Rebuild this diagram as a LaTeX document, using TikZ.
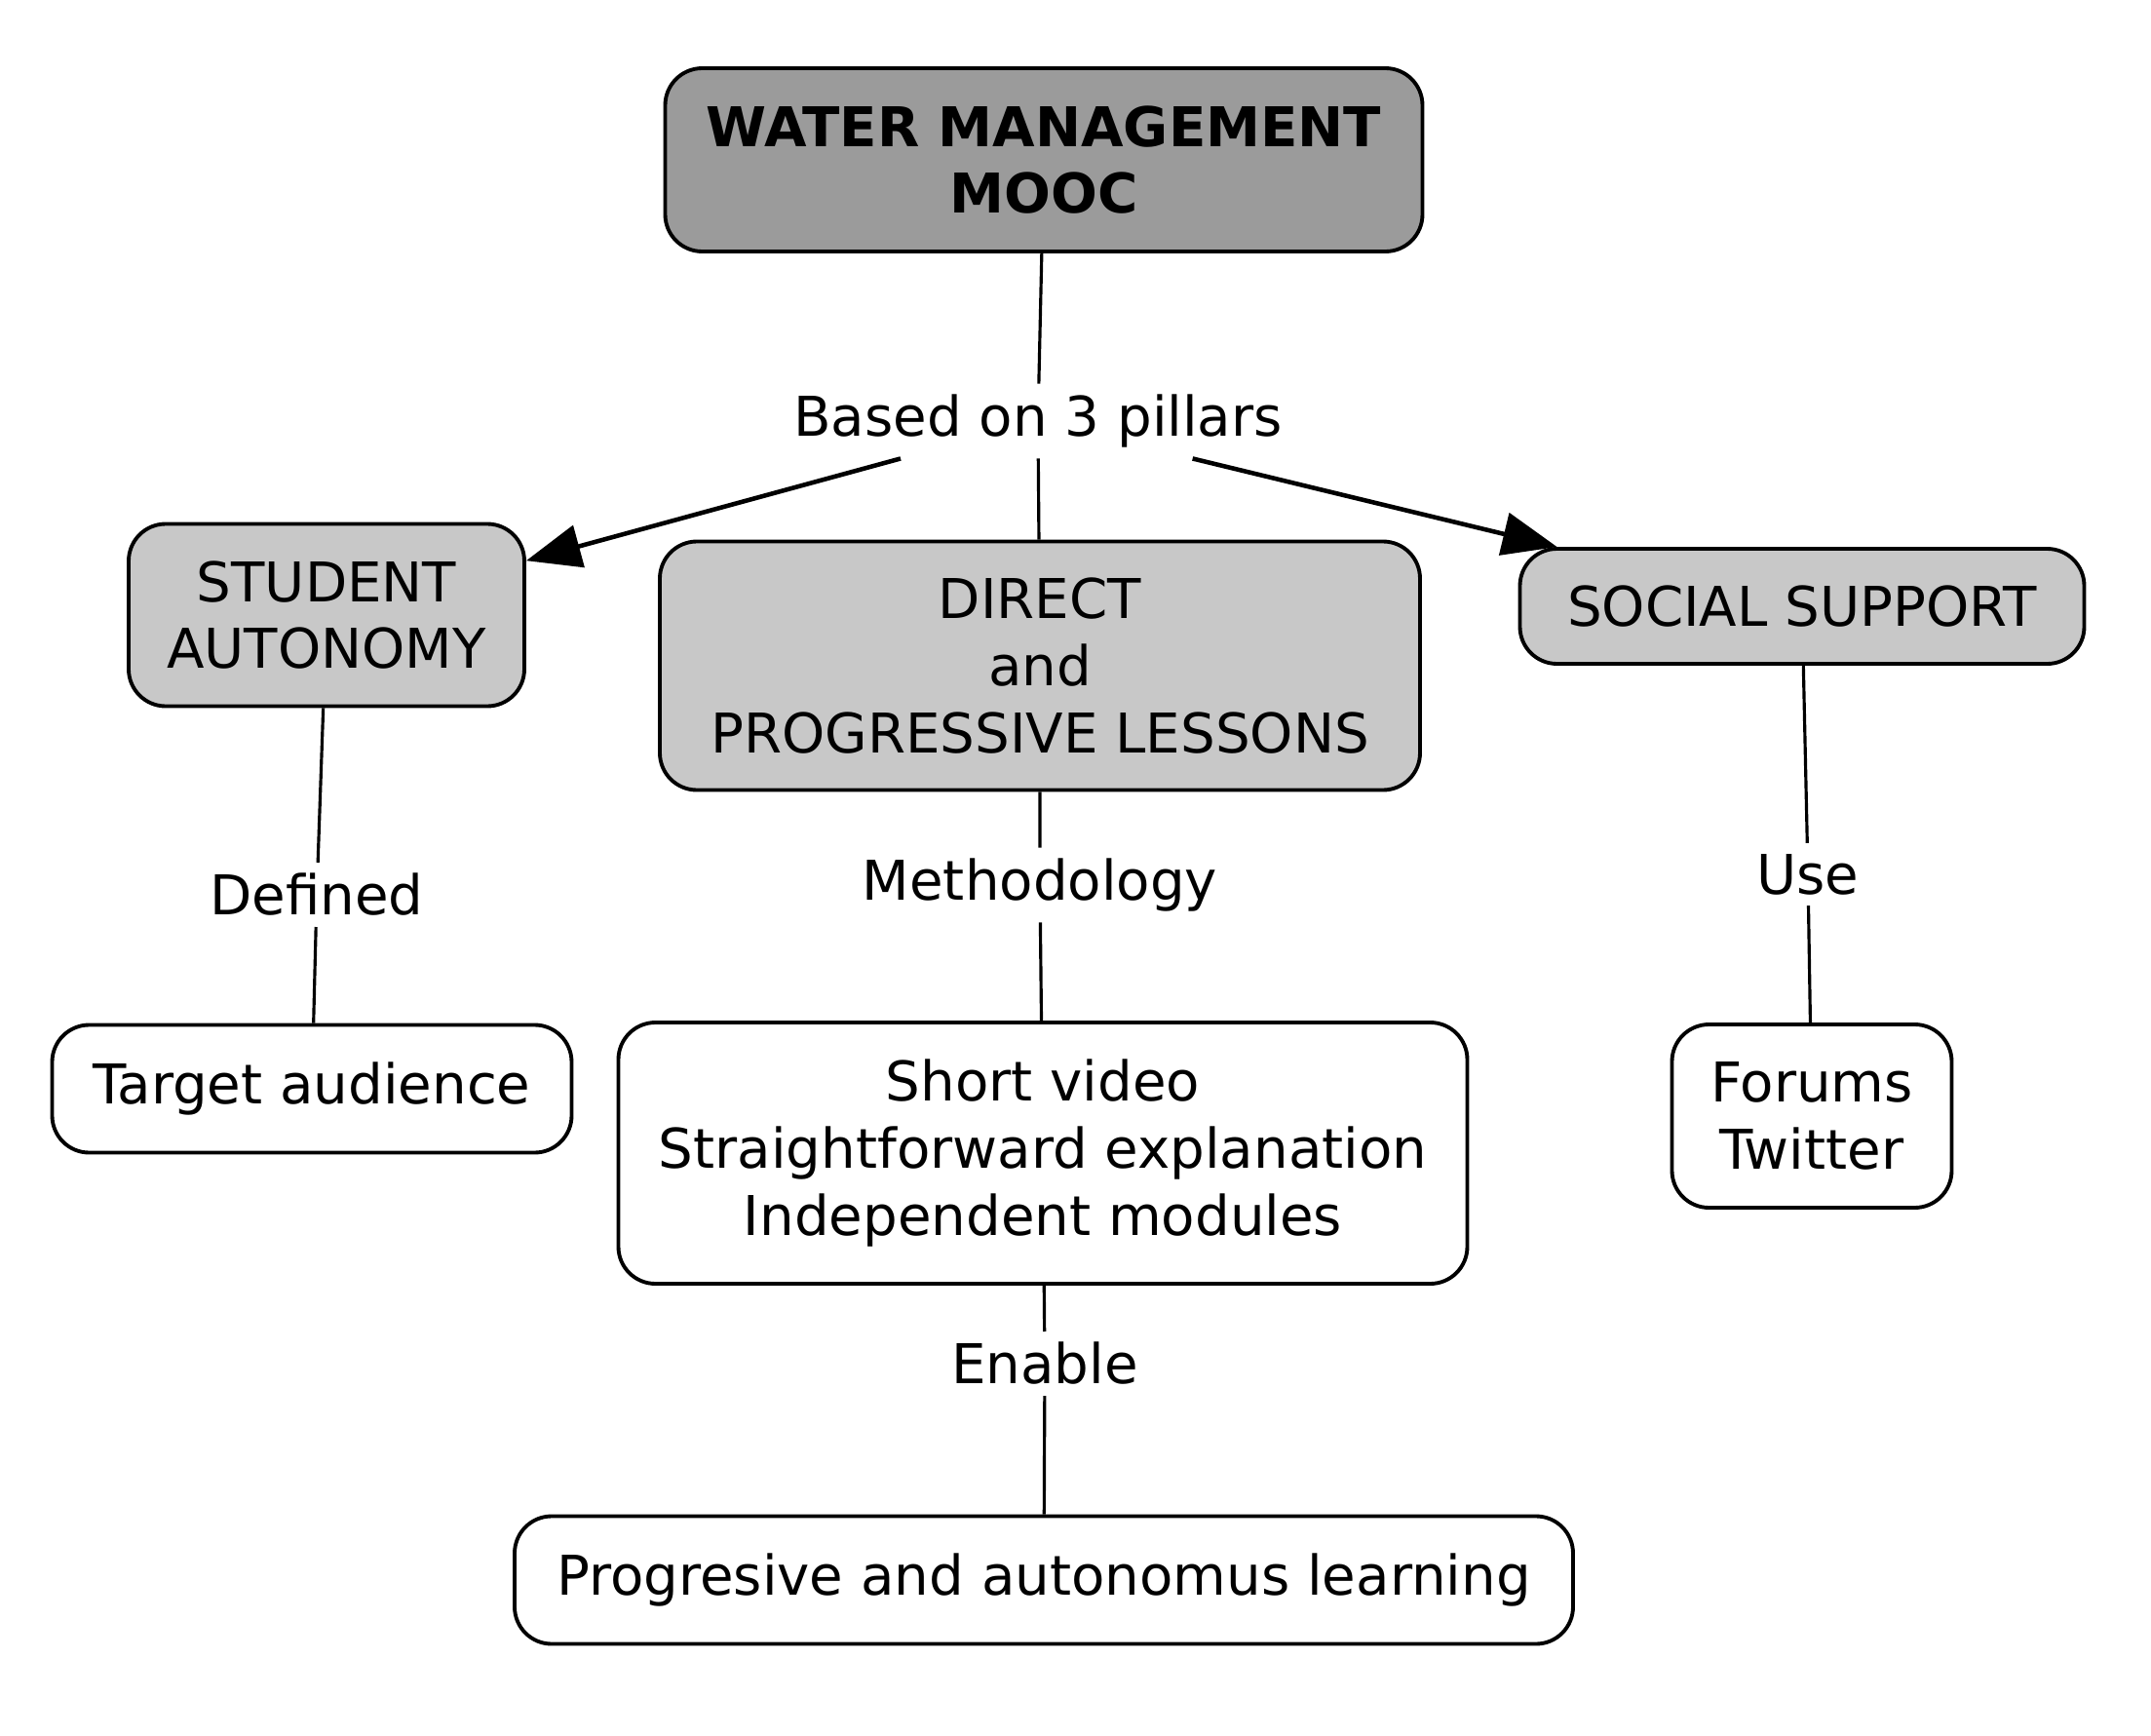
\documentclass[tikz,border=0pt]{standalone}
\usepackage{fontspec}
\setmainfont{DejaVu Sans}
\usepackage{tikz}
\usetikzlibrary{arrows.meta, positioning}
\definecolor{darkbox}{RGB}{155,155,155}
\definecolor{midbox}{RGB}{200,200,200}

\begin{document}
\begin{tikzpicture}[>={Triangle[length=0.56cm, width=0.44cm]}]
  \tikzstyle{conceptbox} = [rectangle, draw=black, line width=1.1pt, rounded corners=0.38cm, align=center, inner sep=0pt, font=\fontsize{16}{19.6}\selectfont]
  \tikzstyle{pillarbox} = [conceptbox, fill=midbox]
  \tikzstyle{leafbox} = [conceptbox, fill=white]
  \tikzstyle{linklabel} = [fill=white, inner sep=3pt, font=\fontsize{16}{19.6}\selectfont]
  \tikzstyle{link} = [line width=0.9pt]

  \useasboundingbox (0,0) rectangle (22.07,-17.81);

  \node [conceptbox, fill=darkbox, minimum width=7.77cm, minimum height=1.88cm, font=\fontsize{16}{19.6}\selectfont\bfseries] (mooc) at (10.71, -1.64) {WATER MANAGEMENT\\MOOC};

  \node [pillarbox, minimum width=4.06cm, minimum height=1.87cm] (student) at (3.35, -6.31) {STUDENT\\AUTONOMY};
  \node [pillarbox, minimum width=7.80cm, minimum height=2.55cm] (direct) at (10.67, -6.83) {DIRECT\\and\\PROGRESSIVE LESSONS};
  \node [pillarbox, minimum width=5.79cm, minimum height=1.18cm] (social) at (18.49, -6.22) {SOCIAL SUPPORT};

  \node [leafbox, minimum width=5.33cm, minimum height=1.31cm] (target) at (3.20, -11.17) {Target audience};
  \node [leafbox, minimum width=8.71cm, minimum height=2.68cm] (video) at (10.70, -11.83) {Short video\\Straightforward explanation\\Independent modules};
  \node [leafbox, minimum width=2.87cm, minimum height=1.88cm] (forums) at (18.59, -11.45) {Forums\\Twitter};
  \node [leafbox, minimum width=10.86cm, minimum height=1.31cm] (learning) at (10.71, -16.21) {Progresive and autonomus learning};

  \node [linklabel] (pillars) at (10.65, -4.32) {Based on 3 pillars};
  \node [linklabel] (defined) at (3.25, -9.18) {Defined};
  \node [linklabel] (method) at (10.67, -9.08) {Methodology};
  \node [linklabel] (use) at (18.55, -8.97) {Use};
  \node [linklabel] (enable) at (10.72, -13.99) {Enable};

  \draw [link] (mooc) -- (pillars) -- (direct);
  \draw [->, line width=1.3pt] (pillars) -- (student);
  \draw [->, line width=1.3pt] (pillars) -- (social);
  \draw [link] (student) -- (defined) -- (target);
  \draw [link] (direct) -- (method) -- (video);
  \draw [link] (social) -- (use) -- (forums);
  \draw [link] (video) -- (enable) -- (learning);
\end{tikzpicture}
\end{document}
